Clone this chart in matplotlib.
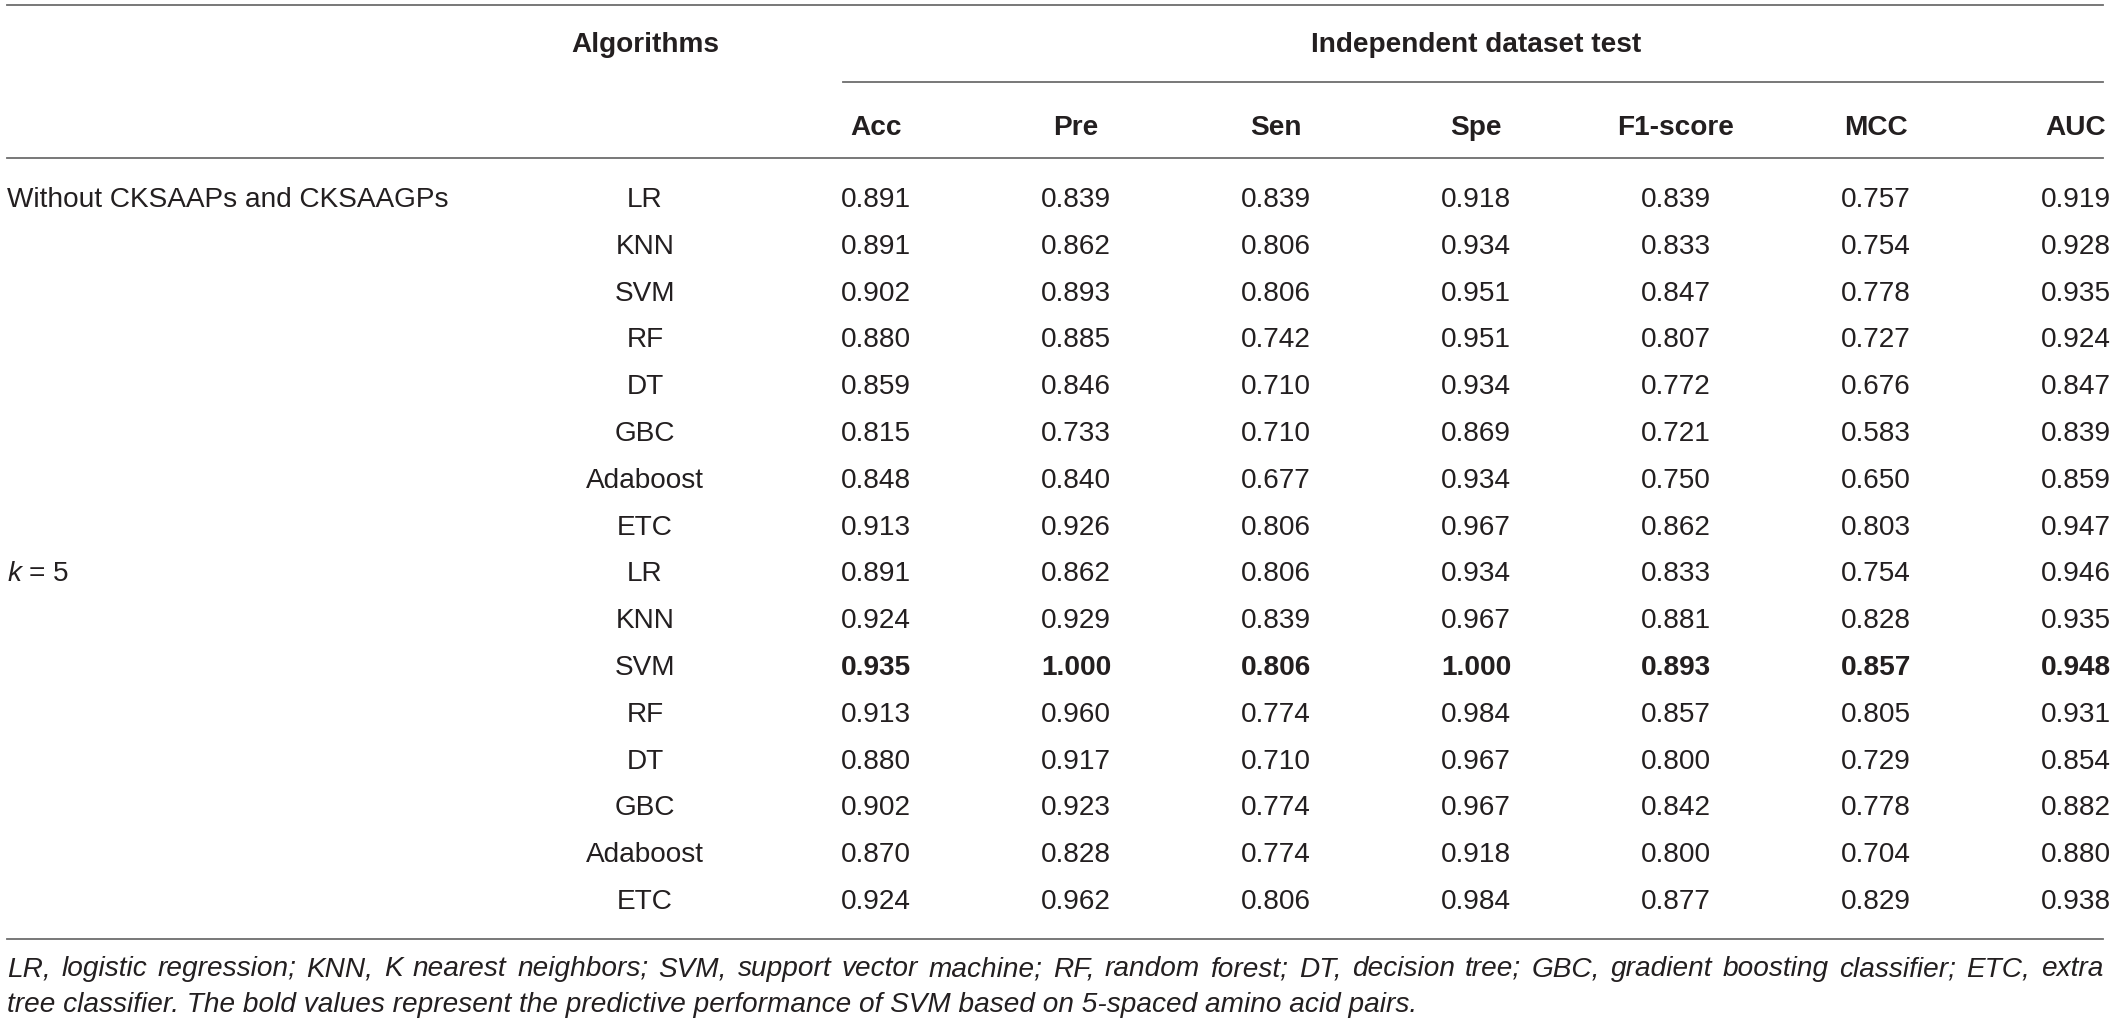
import matplotlib
matplotlib.use("Agg")
import matplotlib.pyplot as plt

plt.rcParams['font.family'] = ['Liberation Sans', 'DejaVu Sans']
plt.rcParams['mathtext.fontset'] = 'custom'
plt.rcParams['mathtext.it'] = 'Liberation Sans:italic'
plt.rcParams['mathtext.rm'] = 'Liberation Sans'

# table contents
groups = ["Without CKSAAPs and CKSAAGPs", "$k$ = 5"]
algorithms = ["LR", "KNN", "SVM", "RF", "DT", "GBC", "Adaboost", "ETC"]
metrics = ["Acc", "Pre", "Sen", "Spe", "F1-score", "MCC", "AUC"]

without_cksaap = [
    [0.891, 0.839, 0.839, 0.918, 0.839, 0.757, 0.919],
    [0.891, 0.862, 0.806, 0.934, 0.833, 0.754, 0.928],
    [0.902, 0.893, 0.806, 0.951, 0.847, 0.778, 0.935],
    [0.880, 0.885, 0.742, 0.951, 0.807, 0.727, 0.924],
    [0.859, 0.846, 0.710, 0.934, 0.772, 0.676, 0.847],
    [0.815, 0.733, 0.710, 0.869, 0.721, 0.583, 0.839],
    [0.848, 0.840, 0.677, 0.934, 0.750, 0.650, 0.859],
    [0.913, 0.926, 0.806, 0.967, 0.862, 0.803, 0.947],
]
k5 = [
    [0.891, 0.862, 0.806, 0.934, 0.833, 0.754, 0.946],
    [0.924, 0.929, 0.839, 0.967, 0.881, 0.828, 0.935],
    [0.935, 1.000, 0.806, 1.000, 0.893, 0.857, 0.948],
    [0.913, 0.960, 0.774, 0.984, 0.857, 0.805, 0.931],
    [0.880, 0.917, 0.710, 0.967, 0.800, 0.729, 0.854],
    [0.902, 0.923, 0.774, 0.967, 0.842, 0.778, 0.882],
    [0.870, 0.828, 0.774, 0.918, 0.800, 0.704, 0.880],
    [0.924, 0.962, 0.806, 0.984, 0.877, 0.829, 0.938],
]
bold_row = ("$k$ = 5", "SVM")

footnote = [
    "LR, logistic regression; KNN, K nearest neighbors; SVM, support vector machine; RF, random forest; "
    "DT, decision tree; GBC, gradient boosting classifier; ETC, extra",
    "tree classifier. The bold values represent the predictive performance of SVM based on 5-spaced amino acid pairs.",
]

W, H = 2118, 1025
fig = plt.figure(figsize=(W / 100, H / 100), dpi=100)
ax = fig.add_axes([0, 0, 1, 1])
ax.set_xlim(0, W)
ax.set_ylim(H, 0)
ax.axis("off")

txt = "#231f20"
rule = "#6d6d6d"
fs = 20.2
fs_note = 20.2

left = 7
right = 2103
algo_x = 645
col_x = [876 + 200 * i for i in range(len(metrics))]
row0 = 197
row_h = 46.8
off = 10  # baseline offset from row centre

# rules
ax.plot([left, right], [5, 5], color=rule, lw=1.3)
ax.plot([843, right], [82, 82], color=rule, lw=1.3)
ax.plot([left, right], [158, 158], color=rule, lw=1.3)
ax.plot([left, right], [939, 939], color=rule, lw=1.3)

# headers
ax.text(algo_x, 42 + off, "Algorithms", ha="center", va="baseline",
        fontsize=fs, fontweight="bold", color=txt)
ax.text((col_x[0] + col_x[-1]) / 2, 42 + off, "Independent dataset test", ha="center",
        va="baseline", fontsize=fs, fontweight="bold", color=txt)
for x, m in zip(col_x, metrics):
    ax.text(x, 125 + off, m, ha="center", va="baseline", fontsize=fs,
            fontweight="bold", color=txt)

# body
r = 0
for g, block in zip(groups, [without_cksaap, k5]):
    for j, (alg, vals) in enumerate(zip(algorithms, block)):
        y = row0 + row_h * r + off
        if j == 0:
            ax.text(left, y, g, ha="left", va="baseline", fontsize=fs, color=txt)
        ax.text(algo_x, y, alg, ha="center", va="baseline", fontsize=fs, color=txt)
        wt = "bold" if (g, alg) == bold_row else "normal"
        for x, v in zip(col_x, vals):
            ax.text(x, y, f"{v:.3f}", ha="center", va="baseline", fontsize=fs,
                    fontweight=wt, color=txt)
        r += 1

# footnote, first line justified
renderer = fig.canvas.get_renderer()
words = footnote[0].split(" ")
items = [ax.text(0, 967 + 9, w, ha="left", va="baseline", fontsize=fs_note,
                 style="italic", color=txt) for w in words]
widths = [t.get_window_extent(renderer).width for t in items]
gap = (right - left - sum(widths)) / (len(words) - 1)
x = left
for t, w in zip(items, widths):
    t.set_x(x)
    x += w + gap
ax.text(left, 1003 + 9, footnote[1], ha="left", va="baseline", fontsize=fs_note,
        style="italic", color=txt)

fig.savefig("out.png", dpi=100, facecolor="white")
